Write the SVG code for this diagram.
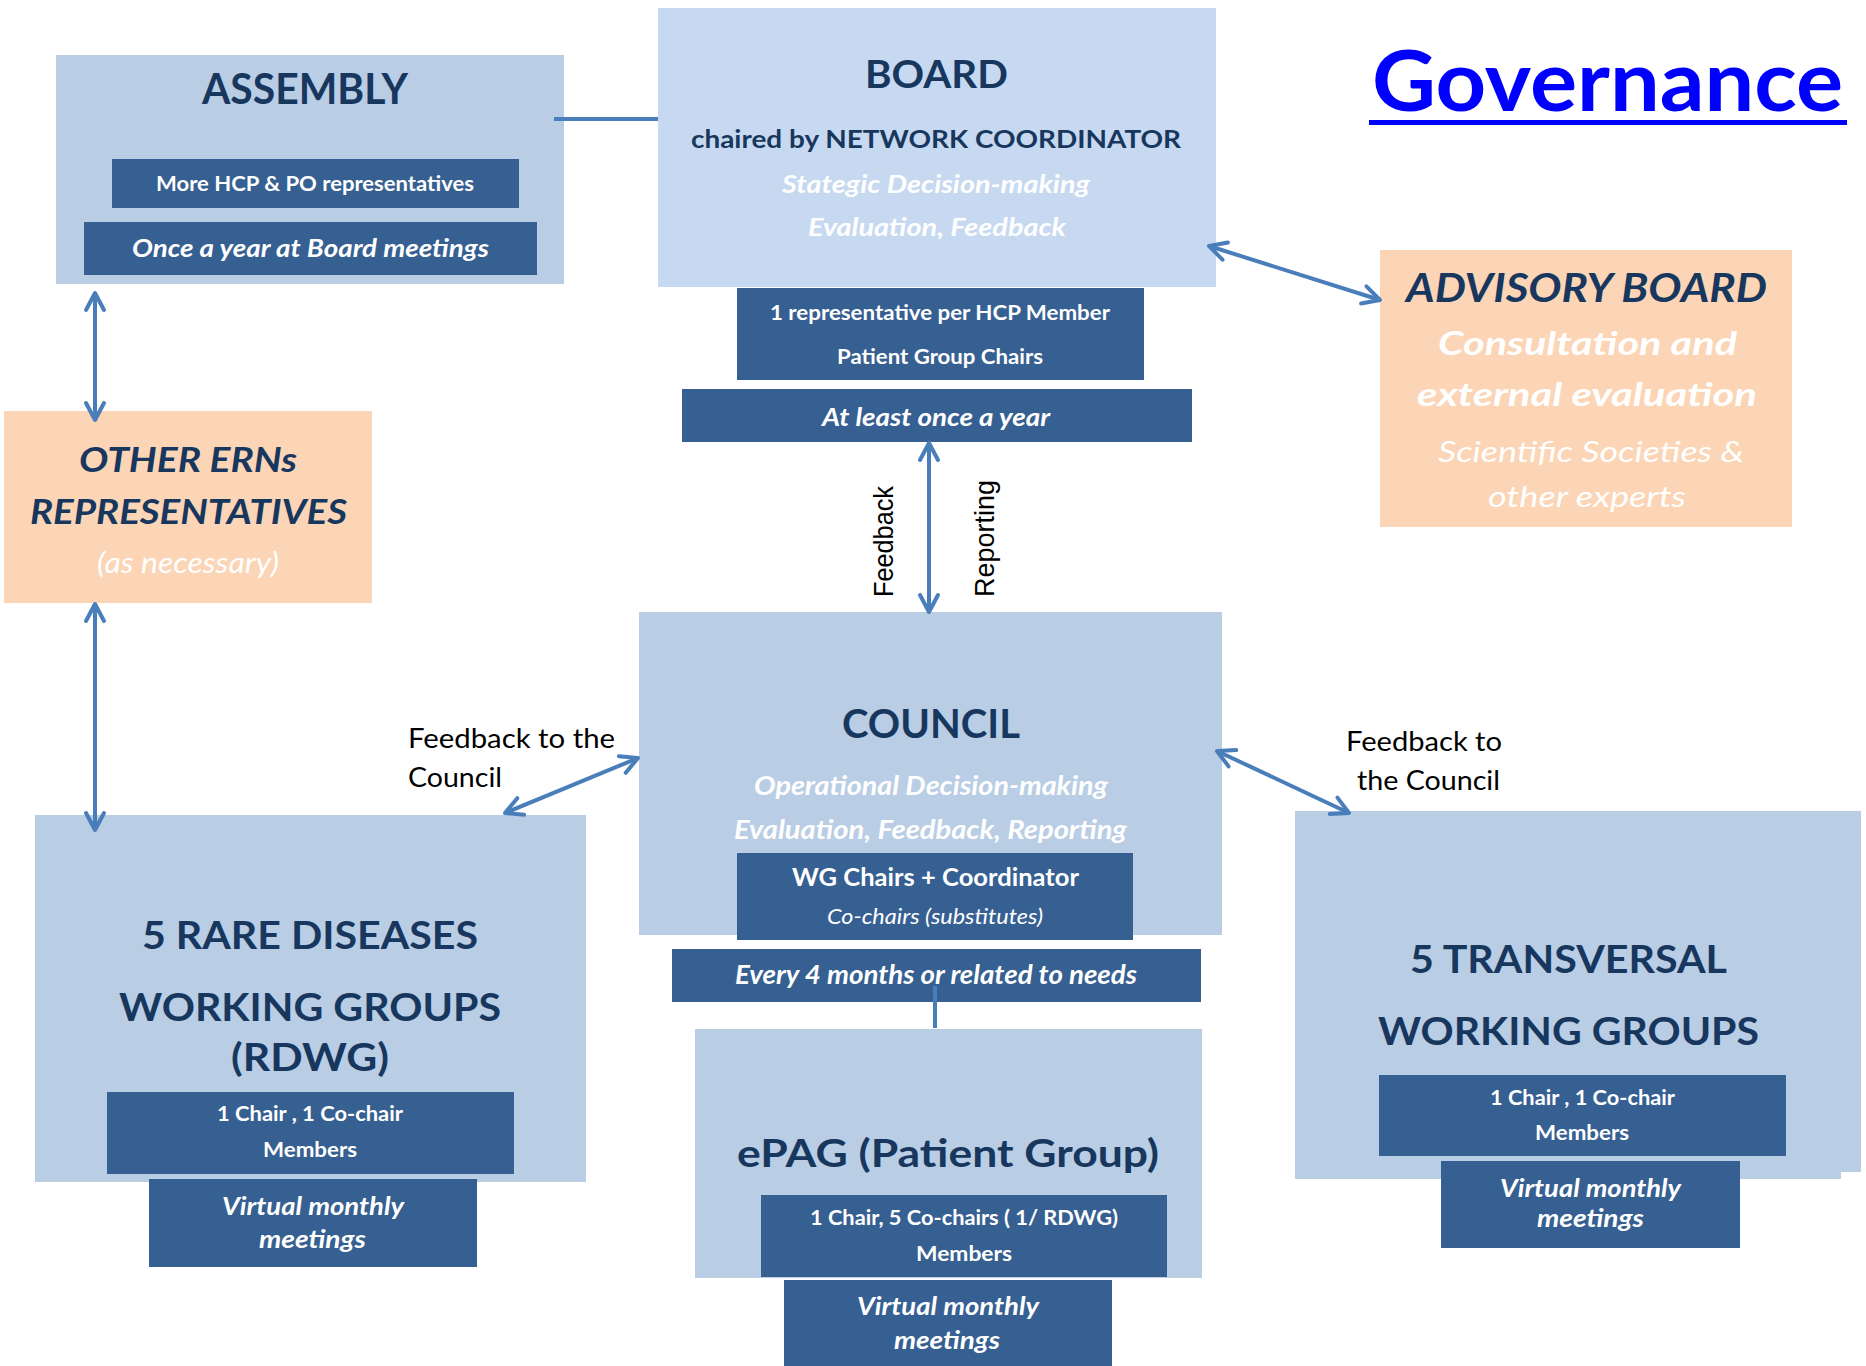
<svg xmlns="http://www.w3.org/2000/svg" width="1866" height="1366" viewBox="0 0 1866 1366">
<defs>
<style>
.lb{fill:#B9CDE5}
.lb2{fill:#C6D9F1}
.pe{fill:#FBD5B5}
.dk{fill:#376092}
text{font-family:Lato,"Liberation Sans",sans-serif}
.h{font-weight:bold;fill:#17375E;text-anchor:middle}
.w{fill:#FFFFFF;text-anchor:middle}
.b{font-weight:bold}
.i{font-style:italic}
.lbl{fill:#000000;font-size:27px}
.con{stroke:#4A7EBB;stroke-width:4;fill:none}
</style>
<marker id="ah" markerUnits="userSpaceOnUse" viewBox="-20 -12 24 24" refX="0" refY="0" markerWidth="24" markerHeight="24" orient="auto-start-reverse">
<path d="M-17,-9 L0,0 L-17,9" fill="none" stroke="#4A7EBB" stroke-width="4" stroke-linecap="round" stroke-linejoin="round"/>
</marker>
</defs>
<rect width="1866" height="1366" fill="#FFFFFF"/>

<g id="title">
<text x="1607.5" y="111" font-size="85" font-weight="bold" fill="#0000FF" text-anchor="middle" textLength="471" lengthAdjust="spacingAndGlyphs">Governance</text>
<rect x="1369" y="120" width="478" height="5" fill="#0000FF"/>
</g>

<g id="assembly">
<rect class="lb" x="56" y="55" width="508" height="229"/>
<text class="h" x="305" y="104" font-size="42" textLength="206" lengthAdjust="spacingAndGlyphs">ASSEMBLY</text>
<rect class="dk" x="112" y="159" width="407" height="49"/>
<text class="w b" x="315" y="191" font-size="21" textLength="318" lengthAdjust="spacingAndGlyphs">More HCP &amp; PO representatives</text>
<rect class="dk" x="84" y="222" width="453" height="53"/>
<text class="w b i" x="310.5" y="257" font-size="25" textLength="357" lengthAdjust="spacingAndGlyphs">Once a year at Board meetings</text>
</g>

<g id="board">
<rect class="lb2" x="658" y="8" width="558" height="279"/>
<text class="h" x="936.5" y="88" font-size="39" textLength="143" lengthAdjust="spacingAndGlyphs">BOARD</text>
<text class="h" x="936" y="148" font-size="25" textLength="490" lengthAdjust="spacingAndGlyphs">chaired by NETWORK COORDINATOR</text>
<text class="w b i" x="936" y="193" font-size="24" textLength="308" lengthAdjust="spacingAndGlyphs">Stategic Decision-making</text>
<text class="w b i" x="937" y="236" font-size="24" textLength="258" lengthAdjust="spacingAndGlyphs">Evaluation, Feedback</text>
<rect class="dk" x="737" y="288" width="407" height="92"/>
<text class="w b" x="940" y="320" font-size="21" textLength="340" lengthAdjust="spacingAndGlyphs">1 representative per HCP Member</text>
<text class="w b" x="940" y="364" font-size="21" textLength="206" lengthAdjust="spacingAndGlyphs">Patient Group Chairs</text>
<rect class="dk" x="682" y="389" width="510" height="53"/>
<text class="w b i" x="936" y="426" font-size="25" textLength="228" lengthAdjust="spacingAndGlyphs">At least once a year</text>
</g>

<g id="advisory">
<rect class="pe" x="1380" y="250" width="412" height="277"/>
<text class="h i" x="1586.5" y="302" font-size="40" textLength="361" lengthAdjust="spacingAndGlyphs">ADVISORY BOARD</text>
<text class="w b i" x="1587.5" y="355" font-size="33" textLength="299" lengthAdjust="spacingAndGlyphs">Consultation and</text>
<text class="w b i" x="1587" y="406" font-size="33" textLength="340" lengthAdjust="spacingAndGlyphs">external evaluation</text>
<text class="w i" x="1591" y="462" font-size="29" textLength="306" lengthAdjust="spacingAndGlyphs">Scientific Societies &amp;</text>
<text class="w i" x="1587" y="507" font-size="29" textLength="198" lengthAdjust="spacingAndGlyphs">other experts</text>
</g>

<g id="other-erns">
<rect class="pe" x="4" y="411" width="368" height="192"/>
<text class="h i" x="188" y="472" font-size="35" textLength="218" lengthAdjust="spacingAndGlyphs">OTHER ERNs</text>
<text class="h i" x="188.5" y="524" font-size="35" textLength="317" lengthAdjust="spacingAndGlyphs">REPRESENTATIVES</text>
<text class="w i" x="188" y="573" font-size="28" textLength="182" lengthAdjust="spacingAndGlyphs">(as necessary)</text>
</g>

<g id="council">
<rect class="lb" x="639" y="612" width="583" height="323"/>
<text class="h" x="931" y="738" font-size="40" textLength="178" lengthAdjust="spacingAndGlyphs">COUNCIL</text>
<text class="w b i" x="931" y="795" font-size="26" textLength="354" lengthAdjust="spacingAndGlyphs">Operational Decision-making</text>
<text class="w b i" x="930.5" y="839" font-size="26" textLength="393" lengthAdjust="spacingAndGlyphs">Evaluation, Feedback, Reporting</text>
<rect class="dk" x="737" y="853" width="396" height="87"/>
<text class="w b" x="935.5" y="886" font-size="24" textLength="287" lengthAdjust="spacingAndGlyphs">WG Chairs + Coordinator</text>
<text class="w i" x="935" y="924" font-size="22" textLength="216" lengthAdjust="spacingAndGlyphs">Co-chairs (substitutes)</text>
<rect class="dk" x="672" y="949" width="529" height="53"/>
<text class="w b i" x="936" y="984" font-size="26" textLength="402" lengthAdjust="spacingAndGlyphs">Every 4 months or related to needs</text>
</g>

<g id="rdwg">
<rect class="lb" x="35" y="815" width="551" height="367"/>
<text class="h" x="310" y="949" font-size="39" textLength="336" lengthAdjust="spacingAndGlyphs">5 RARE DISEASES</text>
<text class="h" x="310" y="1021" font-size="39" textLength="382" lengthAdjust="spacingAndGlyphs">WORKING GROUPS</text>
<text class="h" x="310" y="1071" font-size="39" textLength="158" lengthAdjust="spacingAndGlyphs">(RDWG)</text>
<rect class="dk" x="107" y="1092" width="407" height="82"/>
<text class="w b" x="310" y="1121" font-size="21" textLength="186" lengthAdjust="spacingAndGlyphs">1 Chair , 1 Co-chair</text>
<text class="w b" x="310" y="1157" font-size="21" textLength="94" lengthAdjust="spacingAndGlyphs">Members</text>
<rect class="dk" x="149" y="1179" width="328" height="88"/>
<text class="w b i" x="313" y="1215" font-size="25" textLength="182" lengthAdjust="spacingAndGlyphs">Virtual monthly</text>
<text class="w b i" x="312.5" y="1248" font-size="25" textLength="107" lengthAdjust="spacingAndGlyphs">meetings</text>
</g>

<g id="twg">
<rect class="lb" x="1295" y="811" width="546" height="368"/>
<rect class="lb" x="1295" y="811" width="566" height="361"/>
<text class="h" x="1568.5" y="973" font-size="39" textLength="317" lengthAdjust="spacingAndGlyphs">5 TRANSVERSAL</text>
<text class="h" x="1568.5" y="1045" font-size="39" textLength="381" lengthAdjust="spacingAndGlyphs">WORKING GROUPS</text>
<rect class="dk" x="1379" y="1075" width="407" height="81"/>
<text class="w b" x="1582.5" y="1105" font-size="21" textLength="185" lengthAdjust="spacingAndGlyphs">1 Chair , 1 Co-chair</text>
<text class="w b" x="1582" y="1140" font-size="21" textLength="94" lengthAdjust="spacingAndGlyphs">Members</text>
<rect class="dk" x="1441" y="1161" width="299" height="87"/>
<text class="w b i" x="1590.5" y="1197" font-size="25" textLength="181" lengthAdjust="spacingAndGlyphs">Virtual monthly</text>
<text class="w b i" x="1590.5" y="1227" font-size="25" textLength="107" lengthAdjust="spacingAndGlyphs">meetings</text>
</g>

<g id="epag">
<rect class="lb" x="695" y="1029" width="507" height="249"/>
<text class="h" x="948" y="1167" font-size="39" textLength="422" lengthAdjust="spacingAndGlyphs">ePAG (Patient Group)</text>
<rect class="dk" x="761" y="1195" width="406" height="82"/>
<text class="w b" x="964" y="1225" font-size="21" textLength="308" lengthAdjust="spacingAndGlyphs">1 Chair, 5 Co-chairs ( 1/ RDWG)</text>
<text class="w b" x="964" y="1261" font-size="21" textLength="96" lengthAdjust="spacingAndGlyphs">Members</text>
<rect class="dk" x="784" y="1280" width="328" height="86"/>
<text class="w b i" x="948" y="1315" font-size="25" textLength="182" lengthAdjust="spacingAndGlyphs">Virtual monthly</text>
<text class="w b i" x="947" y="1349" font-size="25" textLength="106" lengthAdjust="spacingAndGlyphs">meetings</text>
</g>

<g id="connectors">
<line class="con" x1="554" y1="119" x2="658" y2="119"/>
<line class="con" x1="935" y1="986" x2="935" y2="1028"/>
<line class="con" x1="95" y1="293" x2="95" y2="420" marker-start="url(#ah)" marker-end="url(#ah)"/>
<line class="con" x1="95" y1="604" x2="95" y2="830" marker-start="url(#ah)" marker-end="url(#ah)"/>
<line class="con" x1="1209" y1="246" x2="1380" y2="300" marker-start="url(#ah)" marker-end="url(#ah)"/>
<line class="con" x1="929" y1="443" x2="929" y2="612" marker-start="url(#ah)" marker-end="url(#ah)"/>
<line class="con" x1="505" y1="813" x2="638" y2="758" marker-start="url(#ah)" marker-end="url(#ah)"/>
<line class="con" x1="1217" y1="751" x2="1349" y2="813" marker-start="url(#ah)" marker-end="url(#ah)"/>
<text style="font-family:'Liberation Sans',Arial,sans-serif" font-size="28" fill="#000000" transform="translate(893,597) rotate(-90)" textLength="111" lengthAdjust="spacingAndGlyphs">Feedback</text>
<text style="font-family:'Liberation Sans',Arial,sans-serif" font-size="28" fill="#000000" transform="translate(994,597) rotate(-90)" textLength="117" lengthAdjust="spacingAndGlyphs">Reporting</text>
<text class="lbl" x="408" y="748" textLength="207" lengthAdjust="spacingAndGlyphs">Feedback to the</text>
<text class="lbl" x="408" y="787" textLength="94" lengthAdjust="spacingAndGlyphs">Council</text>
<text class="lbl" x="1424" y="751" text-anchor="middle" textLength="156" lengthAdjust="spacingAndGlyphs">Feedback to</text>
<text class="lbl" x="1428.5" y="790" text-anchor="middle" textLength="143" lengthAdjust="spacingAndGlyphs">the Council</text>
</g>
</svg>
